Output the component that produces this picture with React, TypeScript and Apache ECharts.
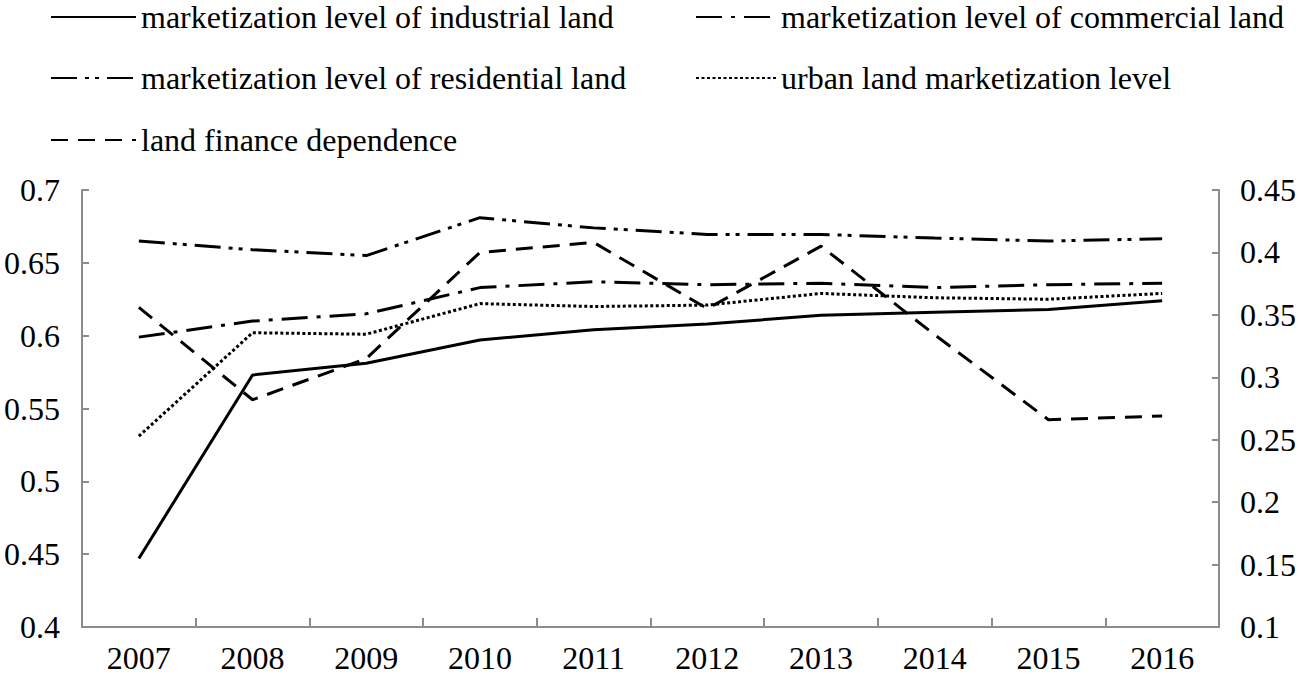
import React, { useEffect, useRef } from "react";
import * as echarts from "echarts";

const years = ["2007", "2008", "2009", "2010", "2011", "2012", "2013", "2014", "2015", "2016"];
const industrial = [0.447, 0.573, 0.581, 0.597, 0.604, 0.608, 0.614, 0.616, 0.618, 0.624];
const commercial = [0.599, 0.61, 0.615, 0.633, 0.637, 0.635, 0.636, 0.633, 0.635, 0.636];
const residential = [0.665, 0.659, 0.655, 0.681, 0.674, 0.6695, 0.6695, 0.667, 0.665, 0.6665];
const urban = [0.531, 0.602, 0.601, 0.622, 0.62, 0.621, 0.629, 0.626, 0.625, 0.629];
const landFinance = [0.356, 0.282, 0.315, 0.4, 0.408, 0.355, 0.405, 0.334, 0.266, 0.269];

const names = [
  "marketization level of industrial land",
  "marketization level of commercial land",
  "marketization level of residential land",
  "urban land marketization level",
  "land finance dependence",
];

const FONT = "Liberation Serif";

export default function App() {
  const ref = useRef<HTMLDivElement>(null);
  useEffect(() => {
    if (!ref.current) return;
    const chart = echarts.init(ref.current, null, { renderer: "svg" });
    const textStyle = { fontFamily: FONT, fontSize: 32, color: "#000" };
    const mkLegend = (name: string, left: number, top: number, w: number) => ({
      data: [name],
      left,
      top,
      padding: 0,
      itemWidth: w,
      itemHeight: 14,
      itemGap: 8,
      selectedMode: false,
      itemStyle: { color: "rgba(0,0,0,0)", borderWidth: 0, opacity: 0 },
      textStyle,
    });
    const axisLine = { show: true, lineStyle: { color: "#8c8c8c", width: 2 } };
    const mkLine = (name: string, data: number[], type: any, yAxisIndex = 0, width = 3) => ({
      name,
      type: "line",
      data,
      yAxisIndex,
      symbol: "none",
      lineStyle: { color: "#000", width, type, cap: "butt" },
      itemStyle: { color: "#000" },
    });
    const fmt = (v: number) => String(parseFloat(v.toFixed(2)));
    chart.setOption({
      animation: false,
      backgroundColor: "#fff",
      textStyle: { fontFamily: FONT },
      legend: [
        mkLegend(names[0], 50, 1, 85),
        mkLegend(names[1], 695, 1, 80),
        mkLegend(names[2], 50, 62, 85),
        mkLegend(names[3], 695, 62, 80),
        mkLegend(names[4], 50, 124, 85),
      ],
      grid: { left: 82, right: 81, top: 190, bottom: 50, containLabel: false },
      xAxis: {
        type: "category",
        data: years,
        boundaryGap: true,
        axisLine,
        axisTick: { show: true, inside: true, length: 9, lineStyle: { color: "#8c8c8c", width: 2 } },
        axisLabel: { ...textStyle, margin: 15 },
        splitLine: { show: false },
      },
      yAxis: [
        {
          type: "value",
          min: 0.4,
          max: 0.7,
          interval: 0.05,
          axisLine,
          axisTick: { show: true, inside: true, length: 7, lineStyle: { color: "#8c8c8c", width: 2 } },
          axisLabel: { ...textStyle, margin: 22, formatter: fmt },
          splitLine: { show: false },
        },
        {
          type: "value",
          min: 0.1,
          max: 0.45,
          interval: 0.05,
          position: "right",
          axisLine,
          axisTick: { show: true, inside: true, length: 7, lineStyle: { color: "#8c8c8c", width: 2 } },
          axisLabel: { ...textStyle, margin: 21, formatter: fmt },
          splitLine: { show: false },
        },
      ],
      series: [
        mkLine(names[0], industrial, "solid", 0, 3),
        mkLine(names[1], commercial, [26, 9, 4, 9], 0, 3),
        mkLine(names[2], residential, [26, 8, 4, 6, 4, 8], 0, 3),
        mkLine(names[3], urban, [3, 2.5], 0, 3),
        mkLine(names[4], landFinance, [17, 10], 1, 3),
      ],
    });
    return () => chart.dispose();
  }, []);
  return (
    <div
      ref={ref}
      style={{ position: "fixed", left: 0, top: 0, width: 1300, height: 677 }}
    />
  );
}
